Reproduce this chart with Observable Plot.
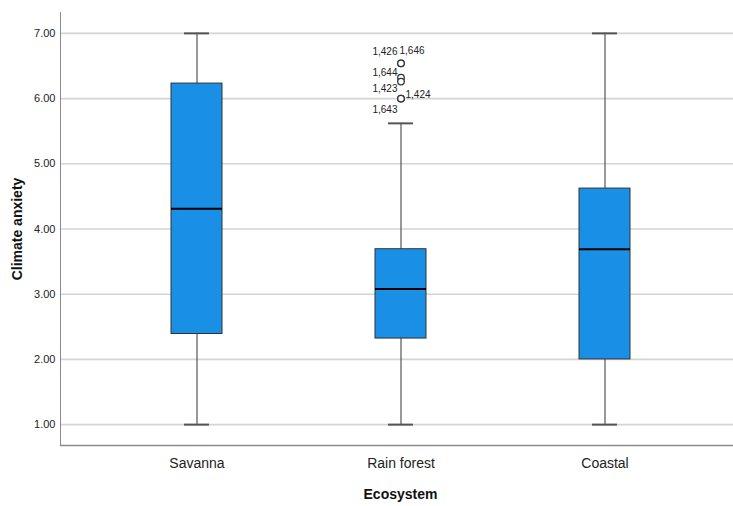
<!DOCTYPE html>
<html>
<head>
<meta charset="utf-8">
<script src="https://cdn.jsdelivr.net/npm/d3@7"></script>
<script src="https://cdn.jsdelivr.net/npm/@observablehq/plot@0.6"></script>
<style>
  html, body { margin: 0; padding: 0; background: #fff; }
  #chart svg { font-family: "Liberation Sans", Arial, sans-serif; display: block; }
</style>
</head>
<body>
<div id="chart"></div>
<script>
// ---- data ----
const ecosystems = ["Savanna", "Rain forest", "Coastal"];
const whiskerLow = [1.0, 1.0, 1.0];
const q1 = [2.39, 2.32, 2.0];
const median = [4.31, 3.08, 3.69];
const q3 = [6.23, 3.69, 4.62];
const whiskerHigh = [7.0, 5.62, 7.0];

const outlierGroup = ["Rain forest", "Rain forest", "Rain forest", "Rain forest", "Rain forest", "Rain forest"];
const outlierValue = [6.54, 6.54, 6.32, 6.26, 6.0, 6.0];
const outlierCase = ["1,426", "1,646", "1,644", "1,423", "1,424", "1,643"];

const yTicks = [1, 2, 3, 4, 5, 6, 7];
const xTitle = "Ecosystem";
const yTitle = "Climate anxiety";

// ---- build tables ----
const boxes = ecosystems.map((e, i) => ({
  eco: e, lo: whiskerLow[i], q1: q1[i], med: median[i], q3: q3[i], hi: whiskerHigh[i]
}));
const outliers = outlierValue.map((v, i) => ({eco: outlierGroup[i], value: v, id: outlierCase[i]}));

// label placement (layout only)
const labelPlacement = [
  {anchor: "end", dx: -3.5, dy: -11.5},
  {anchor: "start", dx: -1.5, dy: -12.5},
  {anchor: "end", dx: -3.5, dy: -5},
  {anchor: "end", dx: -3.5, dy: 7},
  {anchor: "start", dx: 4.5, dy: -3.5},
  {anchor: "end", dx: -3.5, dy: 11.5}
];

const boxFill = "#1a8fe6";
const whiskerColor = "#555";

const labelMarks = outliers.map((d, i) => Plot.text([d], {
  x: "eco", y: "value", text: "id",
  textAnchor: labelPlacement[i].anchor,
  dx: labelPlacement[i].dx, dy: labelPlacement[i].dy,
  fontSize: 10, fill: "#222"
}));

const chart = Plot.plot({
  width: 733,
  height: 506,
  marginLeft: 60,
  marginRight: 0,
  marginTop: 12,
  marginBottom: 61,
  style: {background: "#fff", fontFamily: "Liberation Sans, Arial, sans-serif"},
  x: {type: "band", domain: ecosystems, paddingInner: 0.7506, paddingOuter: 0.5208, align: 0.52},
  y: {domain: [0.68, 7.32]},
  marks: [
    Plot.gridY(yTicks, {stroke: "#d4d4d4", strokeOpacity: 1, strokeWidth: 1.6}),
    Plot.frame({anchor: "left", stroke: "#8a8a8a"}),
    Plot.frame({anchor: "bottom", stroke: "#8a8a8a", strokeWidth: 1.3}),
    Plot.axisY({ticks: yTicks, tickSize: 0, tickPadding: 5, tickFormat: d3.format(".2f"),
      fontSize: 11, fill: "#222", label: null}),
    Plot.axisX({tickSize: 0, tickPadding: 13, fontSize: 14, fill: "#222", label: null}),
    // whiskers
    Plot.ruleX(boxes, {x: "eco", y1: "lo", y2: "q1", stroke: whiskerColor, strokeWidth: 1.2}),
    Plot.ruleX(boxes, {x: "eco", y1: "q3", y2: "hi", stroke: whiskerColor, strokeWidth: 1.2}),
    Plot.tickY(boxes, {x: "eco", y: "lo", stroke: whiskerColor, strokeWidth: 2, insetLeft: 13, insetRight: 13}),
    Plot.tickY(boxes, {x: "eco", y: "hi", stroke: whiskerColor, strokeWidth: 2, insetLeft: 13, insetRight: 13}),
    // boxes
    Plot.barY(boxes, {x: "eco", y1: "q1", y2: "q3", fill: boxFill, stroke: "#333", strokeWidth: 1}),
    Plot.tickY(boxes, {x: "eco", y: "med", stroke: "#000", strokeWidth: 2}),
    // outliers
    Plot.dot(outliers, {x: "eco", y: "value", r: 3.3, stroke: "#333", strokeWidth: 1.3, fill: "#fff"}),
    ...labelMarks,
    // axis titles
    Plot.text([yTitle], {frameAnchor: "left", textAnchor: "middle", lineAnchor: "middle", dx: -43, rotate: -90, fontSize: 14, fontWeight: "bold", fill: "#111"}),
    Plot.text([xTitle], {frameAnchor: "bottom", textAnchor: "middle", lineAnchor: "middle", dx: 3.5, dy: 49, fontSize: 14, fontWeight: "bold", fill: "#111"})
  ]
});
document.getElementById("chart").appendChild(chart);
</script>
</body>
</html>
